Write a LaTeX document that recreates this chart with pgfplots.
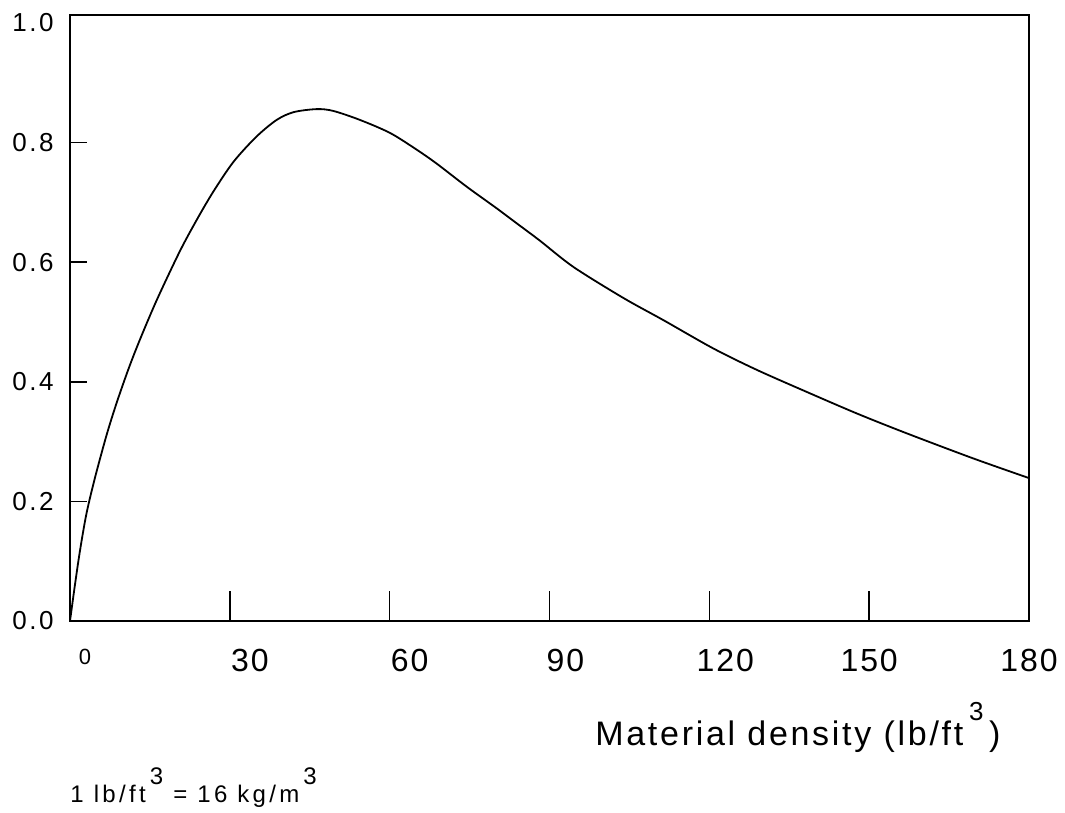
\documentclass[border=0pt]{standalone}
\usepackage{fontspec}
\setmainfont{Liberation Sans}
\newfontfamily\ylabfont[LetterSpace=10]{Liberation Sans}
\newfontfamily\xlabfont[LetterSpace=6]{Liberation Sans}
\newfontfamily\titlefont[LetterSpace=8]{Liberation Sans}
\newfontfamily\notefont[LetterSpace=14]{Liberation Sans}
\usepackage{pgfplots}
\pgfplotsset{compat=1.18}
\pgfplotstableread{
x y
0 0
1.0 0.065
1.9 0.119
3.1 0.180
4.7 0.240
6.9 0.312
8.8 0.366
11.0 0.422
13.1 0.470
16.3 0.537
20.6 0.618
23.8 0.671
26.9 0.718
30.7 0.768
35.0 0.810
38.8 0.838
42.0 0.851
46.3 0.856
49.4 0.853
54.4 0.838
60.1 0.816
65.1 0.788
68.8 0.765
74.5 0.726
80.1 0.690
84.0 0.664
88.2 0.636
94.5 0.592
103.9 0.540
111.4 0.503
120.7 0.456
128.9 0.420
138.3 0.383
147.7 0.347
157.0 0.314
169.5 0.272
180 0.239
}\curvedata
\begin{document}
\begin{tikzpicture}
\path[use as bounding box] (-35pt,-96pt) rectangle (497.5pt,310.5pt);
\begin{axis}[
  at={(0,0)}, anchor=south west,
  width=479.5pt, height=303pt, scale only axis,
  xmin=0, xmax=180, ymin=0, ymax=1.0134,
  axis line style={line width=1pt},
  tick align=inside,
  xtick pos=bottom, ytick pos=left,
  xtick={0,30,60,90,120,150,180},
  xticklabels={{\raisebox{4pt}{\fontsize{11}{11}\selectfont\hspace{15pt}0}},{\hspace{20pt}30},{\hspace{20pt}60},{\hspace{16pt}90},{\hspace{16pt}120},{150},{180}},
  xticklabel style={font=\xlabfont\fontsize{16}{16}\selectfont, anchor=north, inner sep=0pt, yshift=-14pt},
  xtick style={/pgfplots/major tick length=15pt, black, line width=0.8pt},
  ytick style={/pgfplots/major tick length=8.5pt, black, line width=0.8pt},
  ytick={0,0.2,0.4,0.6,0.8},
  yticklabels={0.0,0.2,0.4,0.6,0.8},
  extra y ticks={1.0},
  extra y tick labels={1.0},
  extra y tick style={ytick style={/pgfplots/major tick length=0pt}},
  yticklabel style={font=\ylabfont\fontsize{13}{13}\selectfont, anchor=east, inner sep=0pt, xshift=-8pt},
  xlabel={Material density (lb/ft\,\raisebox{0.72em}{\fontsize{13}{13}\selectfont 3}\,)},
  xlabel style={font=\titlefont\fontsize{17}{17}\selectfont, at={(axis description cs:0.759,0)}, anchor=base, yshift=-62pt, inner sep=0pt},
  clip=false,
]
\addplot[black, line width=0.9pt, smooth, tension=0.5] table[x=x, y=y] {\curvedata};
\node[anchor=base west, inner sep=0pt, font=\notefont\fontsize{12}{12}\selectfont] at (rel axis cs:0,0) [yshift=-90.5pt]
  {1 lb/ft\,\raisebox{0.72em}{\fontsize{12}{12}\selectfont 3} = 16 kg/m\,\raisebox{0.72em}{\fontsize{12}{12}\selectfont 3}};
\end{axis}
\end{tikzpicture}
\end{document}
